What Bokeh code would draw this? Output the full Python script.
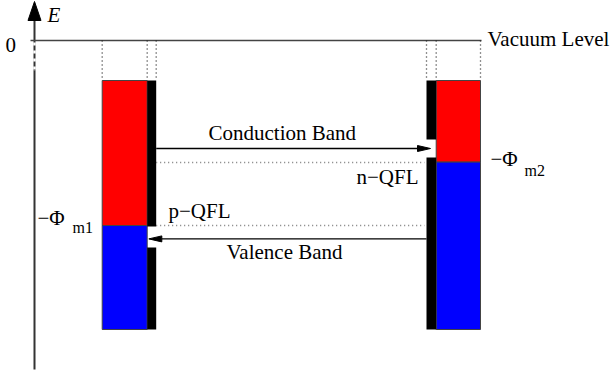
from bokeh.plotting import figure
from bokeh.models import Range1d
from bokeh.core.properties import value
from bokeh.embed import file_html
from bokeh.resources import INLINE

# Energy levels (eV, vacuum level = 0)
vacuum_level = 0.0
band_top = -1.0
band_bottom = -7.225
phi_m = [4.625, 3.04]          # work functions of metal 1 and metal 2
conduction_band = -2.7
valence_band = -4.96
n_qfl = -3.05
p_qfl = -4.625
# openings in the contact layers where carriers pass (lower, upper energy)
contact_gap_left = [-5.175, -4.65]
contact_gap_right = [-2.925, -2.475]
axis_limits = [-8.225, 0.975]

W, H = 616, 372
PX_PER_EV = 40.0

p = figure(width=W, height=H, output_backend="svg", toolbar_location=None,
           x_range=Range1d(0, W), y_range=Range1d(1.0 - H / PX_PER_EV, 1.0),
           x_axis_type=None, y_axis_type=None, min_border=0)
p.grid.visible = False
p.outline_line_color = None
p.background_fill_color = "white"

FS = 21
SUB = 16
DESCENT = 0.216  # descent of the serif face, in em


def label(x, level, txt, size=FS, dy=0, italic=False):
    # text starts at x; its baseline sits dy px below the given energy level
    y = level - (dy + DESCENT * size) / PX_PER_EV
    p.text(x=[x], y=[y], text=[txt], text_font=value("Liberation Serif"),
           text_font_size=f"{size}px",
           text_font_style="italic" if italic else "normal")


# horizontal layout (px)
ax_x = 34
L_metal = (101.7, 146.7)
L_contact = (146.7, 155.7)
R_contact = (426.0, 435.7)
R_metal = (435.7, 480.0)

# ---- labels ----
label(47, axis_limits[1], "E", dy=21, italic=True)
label(5, vacuum_level, "0", dy=7)
label(487, vacuum_level, "Vacuum Level", dy=6)
label(356, n_qfl, "n\u2212QFL", dy=22)
label(168, p_qfl, "p\u2212QFL", dy=-7)
label(208, conduction_band, "Conduction Band", dy=-8)
label(226, valence_band, "Valence Band", dy=21)
label(37, -phi_m[0], "\u2212\u03a6")
label(72, -phi_m[0], "m1", size=SUB, dy=7)
label(490, -phi_m[1], "\u2212\u03a6", dy=4)
label(524, -phi_m[1], "m2", size=SUB, dy=13)

# ---- energy axis with arrow head ----
p.segment(x0=[ax_x, ax_x], y0=[axis_limits[0], 0.0 - 0.75],
          x1=[ax_x, ax_x], y1=[0.0 - 0.75, 0.5], line_color="#333333", line_width=2)
p.segment(x0=[ax_x], y0=[0.0 - 0.05], x1=[ax_x], y1=[0.0 - 0.75],
          line_color="#ffffff", line_width=2.5, line_dash="3 5")
p.patch(x=[ax_x - 6.5, ax_x + 6.5, ax_x], y=[0.5, 0.5, axis_limits[1]],
        fill_color="black", line_color="black")

# vacuum level
p.segment(x0=[30], y0=[vacuum_level], x1=[481], y1=[vacuum_level],
          line_color="#444444", line_width=1.5)

# dotted guides from vacuum level down to the electrodes
guides = [L_metal[0], L_metal[1], L_contact[1], R_contact[0], R_contact[1], R_metal[1]]
p.segment(x0=guides, y0=[vacuum_level] * 6, x1=guides, y1=[band_top] * 6,
          line_color="#222222", line_width=1.3, line_dash="1 3")

# metal 1 (left): filled states in blue, empty states in red
p.quad(left=[L_metal[0]], right=[L_metal[1]], top=[band_top], bottom=[-phi_m[0]],
       fill_color="#ff0000", line_color="#444444", line_width=1)
p.quad(left=[L_metal[0]], right=[L_metal[1]], top=[-phi_m[0]], bottom=[band_bottom],
       fill_color="#0000ff", line_color="#444444", line_width=1)
# metal 2 (right)
p.quad(left=[R_metal[0]], right=[R_metal[1]], top=[band_top], bottom=[-phi_m[1]],
       fill_color="#ff0000", line_color="#444444", line_width=1)
p.quad(left=[R_metal[0]], right=[R_metal[1]], top=[-phi_m[1]], bottom=[band_bottom],
       fill_color="#0000ff", line_color="#444444", line_width=1)

# contact layers with their openings
p.quad(left=[L_contact[0]] * 2, right=[L_contact[1]] * 2,
       top=[band_top, contact_gap_left[0]], bottom=[contact_gap_left[1], band_bottom],
       fill_color="black", line_color=None)
p.quad(left=[R_contact[0]] * 2, right=[R_contact[1]] * 2,
       top=[band_top, contact_gap_right[0]], bottom=[contact_gap_right[1], band_bottom],
       fill_color="black", line_color=None)

# quasi-Fermi levels
p.segment(x0=[L_contact[1]] * 2, y0=[n_qfl, p_qfl], x1=[R_contact[0] - 2] * 2,
          y1=[n_qfl, p_qfl], line_color="#777777", line_width=1.3, line_dash="1 3")

# carrier transport arrows
head_len, head_half = 13, 3.0 / PX_PER_EV
cb_tip = 430.0
vb_tip = 148.3
p.segment(x0=[L_contact[1]], y0=[conduction_band], x1=[cb_tip - head_len],
          y1=[conduction_band], line_color="black", line_width=1.3)
p.patch(x=[cb_tip - head_len, cb_tip - head_len, cb_tip],
        y=[conduction_band + head_half, conduction_band - head_half, conduction_band],
        fill_color="black", line_color="black")
p.segment(x0=[R_contact[0]], y0=[valence_band], x1=[vb_tip + head_len],
          y1=[valence_band], line_color="black", line_width=1.3)
p.patch(x=[vb_tip + head_len, vb_tip + head_len, vb_tip],
        y=[valence_band + head_half, valence_band - head_half, valence_band],
        fill_color="black", line_color="black")

open("out.html", "w").write(file_html(p, INLINE))
